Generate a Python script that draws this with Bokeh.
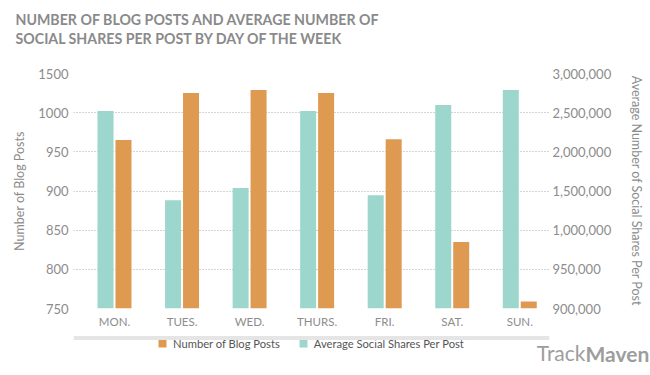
import numpy as np
from bokeh.plotting import figure
from bokeh.layouts import column
from bokeh.models import (Range1d, LinearAxis, FixedTicker, Title, Legend, LegendItem)
from bokeh.embed import file_html
from bokeh.resources import INLINE

# ---- data ----
days = ["MON.", "TUES.", "WED.", "THURS.", "FRI.", "SAT.", "SUN."]
blog_posts = [965, 1025, 1029, 1025, 966, 835, 759]
avg_shares = [2520000, 1381000, 1538000, 2520000, 1445000, 2597000, 2788000]

left_tick_values = [750, 800, 850, 900, 950, 1000, 1050]
left_tick_labels = ["750", "800", "850", "900", "950", "1000", "1500"]
right_tick_values = [900000, 950000, 1000000, 1500000, 2000000, 2500000, 3000000]
right_tick_labels = ["900,000", "950,000", "1,000,000", "1,500,000",
                     "2,000,000", "2,500,000", "3,000,000"]
series_names = ["Number of Blog Posts", "Average Social Shares Per Post"]

ORANGE = "#DF9A52"
TEAL = "#9DD6CC"
GRAY = "#8c8c8c"
LOGO = "#9d9d9d"
FONT = "Lato"

# right axis labels are placed at the same heights as the left ticks
shares_pos = np.interp(avg_shares, right_tick_values, left_tick_values)

x = np.arange(len(days))

p = figure(width=650, height=375, output_backend="svg", toolbar_location=None,
           x_range=Range1d(-0.607, 6.44), y_range=Range1d(750, 1050),
           min_border_left=73, min_border_right=101, min_border_top=73,
           min_border_bottom=67)
p.outline_line_color = None
p.background_fill_color = "white"
p.border_fill_color = "white"

r_teal = p.vbar(x=x - 0.133, top=shares_pos, bottom=750, width=0.237,
                fill_color=TEAL, line_color=None)
r_orange = p.vbar(x=x + 0.133, top=blog_posts, bottom=750, width=0.237,
                  fill_color=ORANGE, line_color=None)

# grid
p.xgrid.visible = False
p.ygrid.ticker = FixedTicker(ticks=left_tick_values)
p.ygrid.grid_line_color = "#aaaaaa"
p.ygrid.grid_line_dash = "1 2"
p.ygrid.grid_line_width = 1

def style_axis(ax):
    ax.axis_line_color = None
    ax.major_tick_line_color = None
    ax.minor_tick_line_color = None
    ax.major_tick_out = 0
    ax.major_tick_in = 0
    ax.minor_tick_out = 0
    ax.minor_tick_in = 0
    ax.major_label_text_color = GRAY
    ax.major_label_text_font = FONT
    ax.axis_label_text_color = GRAY
    ax.axis_label_text_font = FONT
    ax.axis_label_text_font_style = "normal"
    ax.axis_label_text_font_size = "12.5px"

# x axis
xa = p.xaxis[0]
style_axis(xa)
xa.ticker = FixedTicker(ticks=list(x))
xa.major_label_overrides = {int(i): d for i, d in zip(x, days)}
xa.major_label_text_font_size = "11.5px"
xa.major_label_standoff = 6

# left axis
ya = p.yaxis[0]
style_axis(ya)
ya.ticker = FixedTicker(ticks=left_tick_values)
ya.major_label_overrides = {v: l for v, l in zip(left_tick_values, left_tick_labels)}
ya.major_label_text_font_size = "13px"
ya.major_label_standoff = 5
ya.axis_label = "Number of Blog Posts"
ya.axis_label_standoff = 8

# right axis
p.extra_y_ranges = {"shares": Range1d(750, 1050)}
ra = LinearAxis(y_range_name="shares")
style_axis(ra)
ra.ticker = FixedTicker(ticks=left_tick_values)
ra.major_label_overrides = {v: l for v, l in zip(left_tick_values, right_tick_labels)}
ra.major_label_text_font_size = "13px"
ra.major_label_standoff = 3
ra.axis_label = "Average Number of Social Shares Per Post"
ra.axis_label_standoff = 15
p.add_layout(ra, "right")

# title: spacer nearest the frame, then line 2, then line 1
spacer = Title(text=" ", text_font_size="1px", standoff=24)
t2 = Title(text="SOCIAL SHARES PER POST BY DAY OF THE WEEK", align="left", offset=-58,
           text_font=FONT, text_font_style="bold", text_font_size="14.2px",
           text_color="#8a8a8a", standoff=0)
t1 = Title(text="NUMBER OF BLOG POSTS AND AVERAGE NUMBER OF", align="left", offset=-58,
           text_font=FONT, text_font_style="bold", text_font_size="14.2px",
           text_color="#8a8a8a", standoff=0)
p.add_layout(spacer, "above")
p.add_layout(t2, "above")
p.add_layout(t1, "above")

# logo, first half ("Track"), below the x axis
track = Title(text="Track", align="right", offset=-36, standoff=16,
              vertical_align="middle", text_baseline="middle",
              text_font=FONT, text_font_style="normal", text_font_size="21px",
              text_color=LOGO)
p.add_layout(track, "below")

# ---- strip with the legend, overlaid on the bottom of the chart ----
p2 = figure(width=650, height=42, output_backend="svg", toolbar_location=None,
            x_range=Range1d(-0.607, 6.44), y_range=Range1d(0, 40),
            x_axis_location=None, y_axis_location=None,
            min_border=0, margin=(-42, 0, 0, 0))
p2.outline_line_color = None
p2.grid.visible = False
p2.background_fill_alpha = 0
p2.border_fill_alpha = 0

# legend keys: same series, zero width and outside this strip's range (nothing drawn)
k_orange = p2.vbar(x=x + 0.133, top=blog_posts, bottom=750, width=0,
                   fill_color=ORANGE, line_color=None)
k_teal = p2.vbar(x=x - 0.133, top=shares_pos, bottom=750, width=0,
                 fill_color=TEAL, line_color=None)

legend = Legend(items=[LegendItem(label=series_names[0], renderers=[k_orange]),
                       LegendItem(label=series_names[1], renderers=[k_teal])],
                location=(84, 25), orientation="horizontal",
                glyph_width=10, glyph_height=10, label_height=14,
                label_standoff=6, spacing=18, padding=0, margin=0,
                border_line_color=None, background_fill_alpha=0,
                label_text_font=FONT, label_text_font_size="11.2px",
                label_text_color="#555555")
p2.add_layout(legend, "center")

# ---- strip with the second half of the logo ("Maven") ----
p3 = figure(width=650, height=32, output_backend="svg", toolbar_location=None,
            x_range=Range1d(0, 1), y_range=Range1d(0, 1),
            x_axis_location=None, y_axis_location=None,
            min_border=0, margin=(-40, 0, 0, 0))
p3.outline_line_color = None
p3.background_fill_alpha = 0
p3.border_fill_alpha = 0

maven = Title(text="Maven", align="left", offset=512, standoff=0,
              vertical_align="top", text_baseline="middle",
              text_font=FONT, text_font_style="bold", text_font_size="21px",
              text_color=LOGO)
p3.add_layout(maven, "below")

layout = column(p, p2, p3, spacing=0)

open("out.html", "w").write(file_html(layout, INLINE))
